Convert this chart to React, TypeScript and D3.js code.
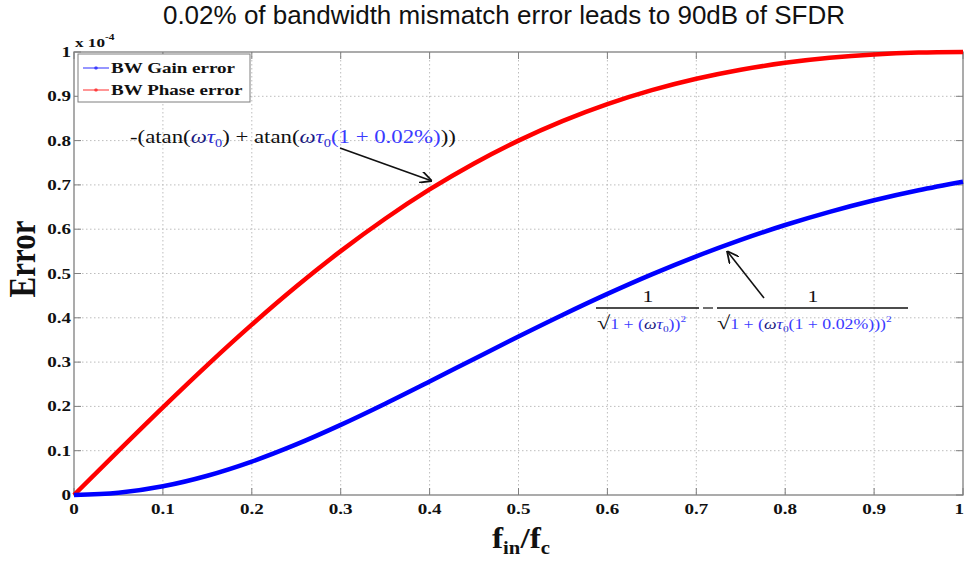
import React from "react";
import * as d3 from "d3";

const xValues = [0, 0.05, 0.1, 0.15, 0.2, 0.25, 0.3, 0.35, 0.4, 0.45, 0.5, 0.55, 0.6, 0.65, 0.7, 0.75, 0.8, 0.85, 0.9, 0.95, 1.0];
const phaseError = [0, 0.0998, 0.198, 0.2934, 0.3846, 0.4706, 0.5505, 0.6236, 0.6897, 0.7484, 0.8, 0.8445, 0.8824, 0.9139, 0.9396, 0.96, 0.9756, 0.9869, 0.9945, 0.9987, 1.0];
const gainError = [0, 0.005, 0.0197, 0.0435, 0.0754, 0.1141, 0.1582, 0.206, 0.2561, 0.3071, 0.3578, 0.407, 0.454, 0.4981, 0.5388, 0.576, 0.6095, 0.6392, 0.6653, 0.6878, 0.7071];
const xTicks = [0, 0.1, 0.2, 0.3, 0.4, 0.5, 0.6, 0.7, 0.8, 0.9, 1];
const yTicks = [0, 0.1, 0.2, 0.3, 0.4, 0.5, 0.6, 0.7, 0.8, 0.9, 1];
const seriesNames = ["BW Gain error", "BW Phase error"];
const seriesColors = ["#0000ff", "#ff0000"];

const W = 964, H = 561;
const L = 74, R = 963, T = 52, B = 495;
const SX = 1.27;
const serif = "'Liberation Serif', 'Times New Roman', serif";
const sans = "'Liberation Sans', Arial, sans-serif";

function ST(props: any) {
  const { x, y, sx = SX, children, ...rest } = props;
  return (
    <g transform={`translate(${x},${y}) scale(${sx},1)`}>
      <text x={0} y={0} fontFamily={serif} {...rest}>
        {children}
      </text>
    </g>
  );
}

export default function App() {
  const x = d3.scaleLinear().domain([0, 1]).range([L, R]);
  const y = d3.scaleLinear().domain([0, 1]).range([B, T]);
  const line = d3.line<number>().x((_, i) => x(xValues[i])).y((d) => y(d)).curve(d3.curveMonotoneX);
  const gridColor = "#bdbdbd";
  const frame = "#7f7f7f";
  const varC = "#2b2bd0";
  const numC = "#3a3aff";
  const omegaC = "#1a1a80";

  return (
    <svg width={W} height={H} style={{ position: "absolute", left: 0, top: 0, background: "#fff" }}>
      <text x={504} y={24} textAnchor="middle" fontFamily={sans} fontSize={26} fill="#111">
        0.02% of bandwidth mismatch error leads to 90dB of SFDR
      </text>
      {xTicks.slice(1, -1).map((t) => (
        <line key={"gx" + t} x1={x(t)} x2={x(t)} y1={T} y2={B} stroke={gridColor} strokeWidth={1} strokeDasharray="1.5,2.5" />
      ))}
      {yTicks.slice(1, -1).map((t) => (
        <line key={"gy" + t} x1={L} x2={R} y1={y(t)} y2={y(t)} stroke={gridColor} strokeWidth={1} strokeDasharray="1.5,2.5" />
      ))}
      <rect x={L} y={T} width={R - L} height={B - T} fill="none" stroke={frame} strokeWidth={1.3} />
      {xTicks.map((t, i) => (
        <g key={"tx" + t}>
          <line x1={x(t)} x2={x(t)} y1={B} y2={B - 7} stroke={frame} />
          <line x1={x(t)} x2={x(t)} y1={T} y2={T + 7} stroke={frame} />
          <ST x={i === xTicks.length - 1 ? 964 : x(t)} y={514} textAnchor={i === xTicks.length - 1 ? "end" : "middle"} fontWeight="bold" fontSize={15} fill="#111">
            {String(t)}
          </ST>
        </g>
      ))}
      {yTicks.map((t) => (
        <g key={"ty" + t}>
          <line x1={L} x2={L + 7} y1={y(t)} y2={y(t)} stroke={frame} />
          <line x1={R} x2={R - 7} y1={y(t)} y2={y(t)} stroke={frame} />
          <ST x={71} y={y(t) + 5} textAnchor="end" fontWeight="bold" fontSize={15} fill="#111">
            {String(t)}
          </ST>
        </g>
      ))}
      <ST x={75} y={47} fontWeight="bold" fontSize={13.5} fill="#111">
        x 10
        <tspan dy={-7} fontSize={9}>-4</tspan>
      </ST>
      <path d={line(phaseError) || ""} fill="none" stroke={seriesColors[1]} strokeWidth={4.5} />
      <path d={line(gainError) || ""} fill="none" stroke={seriesColors[0]} strokeWidth={4.5} />
      <rect x={78} y={54} width={172} height={48} fill="#fff" stroke={frame} strokeWidth={1} />
      {seriesNames.map((n, i) => (
        <g key={n}>
          <line x1={83} x2={109} y1={68 + i * 22} y2={68 + i * 22} stroke={seriesColors[i]} strokeOpacity={0.55} strokeWidth={1.5} />
          <circle cx={96} cy={68 + i * 22} r={1.8} fill={seriesColors[i]} fillOpacity={0.6} />
          <ST x={111} y={73 + i * 22} fontWeight="bold" fontSize={15} fill="#111">
            {n}
          </ST>
        </g>
      ))}
      <text transform="translate(35,259) scale(1.2,1) rotate(-90)" textAnchor="middle" fontFamily={serif} fontWeight="bold" fontSize={31} fill="#111">
        Error
      </text>
      <ST x={492} y={548} sx={1.15} fontWeight="bold" fontSize={29} fill="#111">
        f<tspan dy={6} fontSize={18}>in</tspan>
        <tspan dy={-6}>/f</tspan>
        <tspan dy={6} fontSize={18}>c</tspan>
      </ST>
      <ST x={130} y={143} sx={1.2} fontSize={19} fill="#111">
        -(atan(<tspan fontStyle="italic" fill={omegaC}>ω</tspan>
        <tspan fontStyle="italic" fill={varC}>τ</tspan>
        <tspan dy={4} fontSize={12} fill={varC}>0</tspan>
        <tspan dy={-4}>) + atan(</tspan>
        <tspan fontStyle="italic" fill={omegaC}>ω</tspan>
        <tspan fontStyle="italic" fill={varC}>τ</tspan>
        <tspan dy={4} fontSize={12} fill={varC}>0</tspan>
        <tspan dy={-4} fill={numC}>(1 + 0.02%)</tspan>))
      </ST>
      <defs>
        <marker id="arr" viewBox="0 0 10 10" refX={10} refY={5} markerWidth={12} markerHeight={12} markerUnits="userSpaceOnUse" orient="auto">
          <path d="M0,0 L10,5 L0,10" fill="none" stroke="#111" strokeWidth={1.5} />
        </marker>
      </defs>
      <line x1={340} y1={148} x2={432} y2={181} stroke="#111" strokeWidth={1.6} markerEnd="url(#arr)" />
      <line x1={764} y1={298} x2={727} y2={251} stroke="#111" strokeWidth={1.6} markerEnd="url(#arr)" />
      <ST x={648} y={302} textAnchor="middle" fontSize={17} fill="#111">1</ST>
      <line x1={596} x2={699} y1={308} y2={308} stroke="#111" strokeWidth={1.4} />
      <ST x={597} y={329} fontSize={14} fill="#111">
        <tspan fontSize={19}>√</tspan>
        <tspan fill={numC}>1 + (</tspan>
        <tspan fontStyle="italic" fill={omegaC}>ω</tspan>
        <tspan fontStyle="italic" fill={varC}>τ</tspan>
        <tspan dy={3} fontSize={9} fill={varC}>0</tspan>
        <tspan dy={-3} fill={numC}>))</tspan>
        <tspan dy={-7} fontSize={9} fill={numC}>2</tspan>
      </ST>
      <line x1={703} x2={713} y1={308} y2={308} stroke="#111" strokeWidth={1.2} />
      <ST x={813} y={302} textAnchor="middle" fontSize={17} fill="#111">1</ST>
      <line x1={717} x2={908} y1={308} y2={308} stroke="#111" strokeWidth={1.4} />
      <ST x={717} y={329} fontSize={14} fill="#111">
        <tspan fontSize={19}>√</tspan>
        <tspan fill={numC}>1 + (</tspan>
        <tspan fontStyle="italic" fill={omegaC}>ω</tspan>
        <tspan fontStyle="italic" fill={varC}>τ</tspan>
        <tspan dy={3} fontSize={9} fill={varC}>0</tspan>
        <tspan dy={-3} fill={numC}>(1 + 0.02%)))</tspan>
        <tspan dy={-7} fontSize={9} fill={numC}>2</tspan>
      </ST>
    </svg>
  );
}
